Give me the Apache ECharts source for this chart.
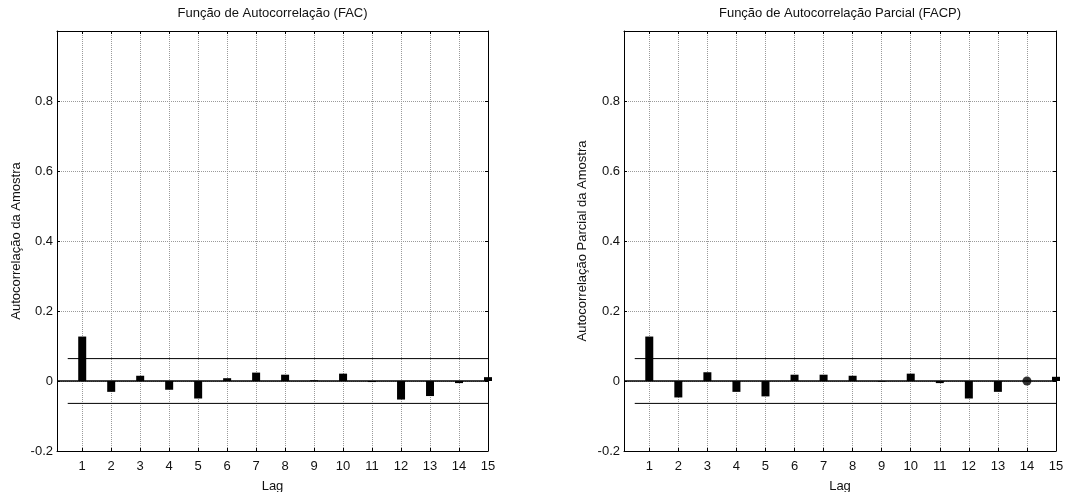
<!DOCTYPE html>
<html>
<head>
<meta charset="utf-8">
<script src="https://cdn.jsdelivr.net/npm/echarts@6/dist/echarts.min.js"></script>
<style>
html,body{margin:0;padding:0;background:#fff;}
#chart{width:1065px;height:492px;}
</style>
</head>
<body>
<div id="chart"></div>
<script>
// ---- data ----
const lags = [1,2,3,4,5,6,7,8,9,10,11,12,13,14,15];
const facValues = [0.127,-0.031,0.015,-0.025,-0.050,0.008,0.024,0.018,0.002,0.021,-0.003,-0.053,-0.043,-0.006,0.011];
const facpValues = [0.127,-0.047,0.025,-0.031,-0.044,0.018,0.018,0.015,-0.002,0.021,-0.006,-0.050,-0.031,0.000,0.012];
const facpMarkerLag = [14];
const facpMarkerValue = [0.000];
const confBound = 0.064;
const boundStartLag = 0.5;
const yTickLabels = ['-0.2','0','0.2','0.4','0.6','0.8'];
const titles = ['Função de Autocorrelação (FAC)','Função de Autocorrelação Parcial (FACP)'];
const yNames = ['Autocorrelação da Amostra','Autocorrelação Parcial da Amostra'];
const xName = 'Lag';

// ---- layout ----
const FONT = 'Liberation Sans, Arial, sans-serif';
const FS = 13;
const X_MIN = 0.13, X_MAX = 15;
const grids = [
  {left:57, right:577, top:31, bottom:41, outerBoundsMode:'none', containLabel:false},
  {left:624, right:9, top:31, bottom:41, outerBoundsMode:'none', containLabel:false}
];
const gridCenters = [(57+488)/2, (624+1056)/2];

const chart = echarts.init(document.getElementById('chart'), null, {renderer:'canvas'});

const xAxes = [], yAxes = [], series = [];
const gridLine = {show:true, lineStyle:{color:'#9a9a9a', type:[1,1], width:1}};
const black = '#000';

function yLabel(v){
  const r = Math.round(v*10)/10;
  const s = r === 0 ? '0' : String(r);
  return yTickLabels.indexOf(s) >= 0 ? s : '';
}

[0,1].forEach(function(g){
  xAxes.push({
    type:'value', gridIndex:g, position:'bottom', min:X_MIN, max:X_MAX,
    name:xName, nameLocation:'middle', nameGap:29,
    nameTextStyle:{fontFamily:FONT, fontSize:FS, color:'#111'},
    axisLine:{show:true, onZero:false, lineStyle:{color:black, width:1}},
    axisTick:{show:true, inside:true, length:3, customValues:lags, lineStyle:{color:black}},
    axisLabel:{show:true, customValues:lags, margin:9, fontFamily:FONT, fontSize:FS, color:'#111'},
    splitLine:gridLine
  });
  xAxes.push({
    type:'value', gridIndex:g, position:'top', min:X_MIN, max:X_MAX,
    axisLine:{show:true, onZero:false, lineStyle:{color:black, width:1}},
    axisTick:{show:true, inside:true, length:3, customValues:lags, lineStyle:{color:black}},
    axisLabel:{show:false},
    splitLine:{show:false}
  });
  yAxes.push({
    type:'value', gridIndex:g, position:'left', min:-0.2, max:1, interval:0.2,
    name:yNames[g], nameLocation:'middle', nameGap:g===0?34:35, nameRotate:90,
    nameTextStyle:{fontFamily:FONT, fontSize:FS, color:'#111'},
    axisLine:{show:true, onZero:false, lineStyle:{color:black, width:1}},
    axisTick:{show:true, inside:true, length:3, lineStyle:{color:black}},
    axisLabel:{show:true, margin:4, fontFamily:FONT, fontSize:FS, color:'#111', formatter:yLabel},
    splitLine:gridLine
  });
  yAxes.push({
    type:'value', gridIndex:g, position:'right', min:-0.2, max:1, interval:0.2,
    axisLine:{show:true, onZero:false, lineStyle:{color:black, width:1}},
    axisTick:{show:true, inside:true, length:3, lineStyle:{color:black}},
    axisLabel:{show:false},
    splitLine:{show:false}
  });
});

const valueSets = [facValues, facpValues];
[0,1].forEach(function(g){
  const xi = g*2, yi = g*2;
  series.push({
    type:'line', xAxisIndex:xi, yAxisIndex:yi, data:[[X_MIN,0],[X_MAX,0]],
    symbol:'none', lineStyle:{color:black, width:1.4}, silent:true, z:3
  });
  series.push({
    type:'line', xAxisIndex:xi, yAxisIndex:yi, data:[[boundStartLag,confBound],[X_MAX,confBound]],
    symbol:'none', lineStyle:{color:black, width:1}, silent:true, z:3
  });
  series.push({
    type:'line', xAxisIndex:xi, yAxisIndex:yi, data:[[boundStartLag,-confBound],[X_MAX,-confBound]],
    symbol:'none', lineStyle:{color:black, width:1}, silent:true, z:3
  });
  series.push({
    type:'bar', xAxisIndex:xi, yAxisIndex:yi, barWidth:8,
    data: lags.map(function(l,i){ return [l, valueSets[g][i]]; }),
    itemStyle:{color:black}, z:4
  });
});
series.push({
  type:'scatter', xAxisIndex:2, yAxisIndex:2, symbol:'circle', symbolSize:9,
  data: facpMarkerLag.map(function(l,i){ return [l, facpMarkerValue[i]]; }),
  itemStyle:{color:black}, z:5
});

chart.setOption({
  animation:false,
  backgroundColor:'#fff',
  grid:grids,
  xAxis:xAxes,
  yAxis:yAxes,
  series:series,
  graphic: titles.map(function(t,i){
    return {type:'text', x:gridCenters[i], y:7,
      style:{text:t, fontFamily:FONT, fontSize:FS, fill:'#111', textAlign:'center', textVerticalAlign:'top'}};
  })
});
</script>
</body>
</html>
